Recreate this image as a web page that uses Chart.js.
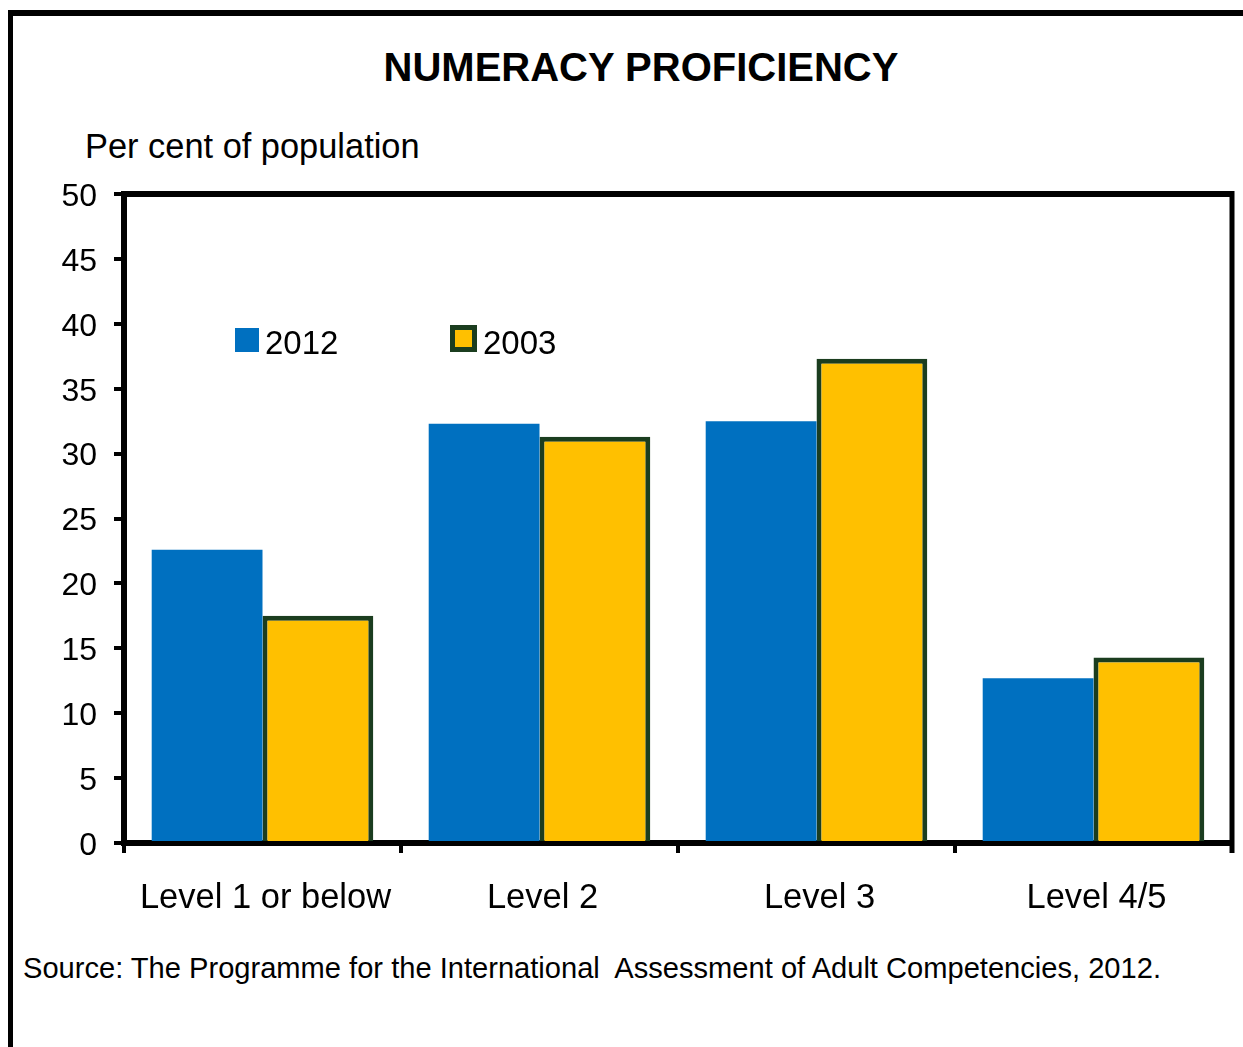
<!DOCTYPE html>
<html>
<head>
<meta charset="utf-8">
<title>Numeracy proficiency</title>
<script src="https://cdn.jsdelivr.net/npm/chart.js@4.4.1/dist/chart.umd.min.js"></script>
<style>
    html, body { margin: 0; padding: 0; background: #fff; }
    body { width: 1243px; height: 1047px; position: relative; overflow: hidden;
           font-family: 'Liberation Sans', Arial, sans-serif; color: #000; }
    .frame { position: absolute; left: 8px; top: 10px; width: 1300px; height: 1100px;
             border-top: 6px solid #000; border-left: 5px solid #000; }
    .title { position: absolute; left: 41px; top: 47px; width: 1200px; text-align: center;
             font-size: 40px; line-height: 40px; font-weight: bold; }
    .ylabel { position: absolute; left: 85px; top: 129px; font-size: 34.4px; line-height: 34px; }
    .source { position: absolute; left: 23px; top: 954px; font-size: 29.1px; line-height: 29px; white-space: pre; }
    .chart-box { position: absolute; left: 0; top: 150px; width: 1243px; height: 800px; }
    .legend-item { position: absolute; top: 325px; height: 28px; font-size: 33px; line-height: 33px; }
    .legend-item .swatch { position: absolute; box-sizing: border-box; }
    .legend-item .txt { position: absolute; top: 0; white-space: nowrap; }
</style>
</head>
<body>
<div class="frame"></div>
<div class="title">NUMERACY PROFICIENCY</div>
<div class="ylabel">Per cent of population</div>
<div class="chart-box"><canvas id="chart"></canvas></div>
<div id="legend"></div>
<div class="source">Source: The Programme for the International  Assessment of Adult Competencies, 2012.</div>

<script>
// データ
const categories = ['Level 1 or below', 'Level 2', 'Level 3', 'Level 4/5'];
const seriesLabels = ['2012', '2003'];
const values2012 = [22.6, 32.3, 32.5, 12.7];
const values2003 = [17.5, 31.3, 37.3, 14.3];
const yMin = 0;
const yMax = 50;
const yStep = 5;

const BLUE = '#0070c0';
const GOLD = '#ffc000';
const DARK_GREEN = '#1b3d1f';

Chart.defaults.font.family = "'Liberation Sans', Arial, sans-serif";
Chart.defaults.color = '#000';

// plot area top / right edges
const boxFrame = {
    id: 'boxFrame',
    afterDraw(chart) {
        const { ctx, chartArea: a } = chart;
        ctx.save();
        ctx.strokeStyle = '#000';
        ctx.lineWidth = 6;
        ctx.beginPath();
        ctx.moveTo(a.left - 3, a.top);
        ctx.lineTo(a.right + 2, a.top);
        ctx.stroke();
        ctx.lineWidth = 5;
        ctx.beginPath();
        ctx.moveTo(a.right, a.top - 3);
        ctx.lineTo(a.right, a.bottom + 10);
        ctx.stroke();
        ctx.restore();
    }
};

new Chart(document.getElementById('chart'), {
    type: 'bar',
    data: {
        labels: categories,
        datasets: [
            {
                label: seriesLabels[0],
                data: values2012,
                backgroundColor: BLUE,
                borderWidth: 0,
            },
            {
                label: seriesLabels[1],
                data: values2003,
                backgroundColor: GOLD,
                borderColor: DARK_GREEN,
                borderWidth: 5,
            }
        ]
    },
    options: {
        responsive: true,
        maintainAspectRatio: false,
        animation: false,
        categoryPercentage: 0.8,
        barPercentage: 1.0,
        layout: { padding: { top: 44, right: 11, left: 0, bottom: 0 } },
        plugins: {
            legend: { display: false },
            title: { display: false },
            tooltip: { enabled: false }
        },
        scales: {
            y: {
                min: yMin,
                max: yMax,
                ticks: { stepSize: yStep, padding: 17, labelOffset: 3, font: { size: 32 }, color: '#000' },
                grid: { drawOnChartArea: false, drawTicks: true, tickLength: 10, lineWidth: 4, color: '#000' },
                border: { display: true, color: '#000', width: 6 },
                afterFit: s => { s.width = 124; }
            },
            x: {
                offset: true,
                ticks: { padding: 25, labelOffset: 3, font: { size: 34.5 }, color: '#000', maxRotation: 0 },
                grid: { offset: true, drawOnChartArea: false, drawTicks: true, tickLength: 10, lineWidth: 4, color: '#000' },
                border: { display: true, color: '#000', width: 6 },
                afterFit: s => { s.height = 107; }
            }
        }
    },
    plugins: [boxFrame]
});

// 凡例 (HTML, inside plot area)
const legendSpec = [
    { label: seriesLabels[0], fill: BLUE, border: null, x: 235, w: 24, top: 3 },
    { label: seriesLabels[1], fill: GOLD, border: DARK_GREEN, x: 450, w: 27, top: 0 },
];
const legendEl = document.getElementById('legend');
legendSpec.forEach(item => {
    const div = document.createElement('div');
    div.className = 'legend-item';
    div.style.left = item.x + 'px';
    const sw = document.createElement('div');
    sw.className = 'swatch';
    sw.style.left = '0px';
    sw.style.top = item.top + 'px';
    sw.style.width = item.w + 'px';
    sw.style.height = (item.w) + 'px';
    sw.style.background = item.fill;
    if (item.border) sw.style.border = '5px solid ' + item.border;
    const txt = document.createElement('div');
    txt.className = 'txt';
    txt.style.left = (item.w + 6) + 'px';
    txt.style.top = '1px';
    txt.textContent = item.label;
    div.appendChild(sw);
    div.appendChild(txt);
    legendEl.appendChild(div);
});
</script>
</body>
</html>
